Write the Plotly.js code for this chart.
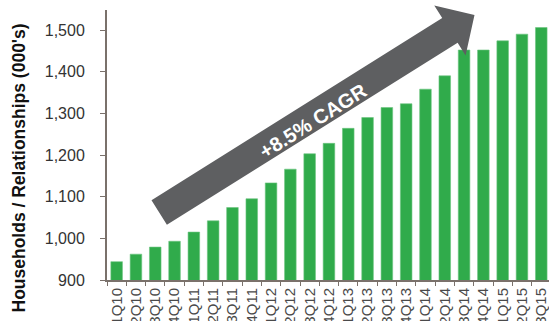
<!DOCTYPE html>
<html>
<head>
<meta charset="utf-8">
<script src="https://cdn.plot.ly/plotly-3.0.1.min.js"></script>
<style>html,body{margin:0;padding:0;background:#fff;}#chart{width:549px;height:321px;}</style>
</head>
<body>
<div id="chart"></div>
<script>
const quarters = ['1Q10','2Q10','3Q10','4Q10','1Q11','2Q11','3Q11','4Q11','1Q12','2Q12','3Q12','4Q12','1Q13','2Q13','3Q13','4Q13','1Q14','2Q14','3Q14','4Q14','1Q15','2Q15','3Q15'];
const households = [944, 962, 979, 993, 1015, 1042, 1074, 1095, 1133, 1166, 1203, 1228, 1264, 1290, 1314, 1323, 1358, 1390, 1452, 1452, 1474, 1490, 1506];
const yTicks = [900, 1000, 1100, 1200, 1300, 1400, 1500];
const arrowLabel = '+8.5% CAGR';
const yTitle = "Households / Relationships (000's)";

const W = 549, H = 321;
const M = {l: 107, r: 0, t: 10, b: 41};
const PW = W - M.l - M.r, PH = H - M.t - M.b;
const px = x => (x - M.l) / PW;
const py = y => (H - M.b - y) / PH;

// arrow geometry (pixels)
const tail = [159.2, 212.5], tip = [474.5, 15];
const dx = tip[0] - tail[0], dy = tip[1] - tail[1];
const L = Math.hypot(dx, dy);
const u = [dx / L, dy / L], n = [-u[1], u[0]];
const sw = 14.5, hw = 29.5, hl = 29;
const base = [tip[0] - hl * u[0], tip[1] - hl * u[1]];
const pts = [
  [tail[0] + sw * n[0], tail[1] + sw * n[1]],
  [base[0] + sw * n[0], base[1] + sw * n[1]],
  [base[0] + hw * n[0], base[1] + hw * n[1]],
  tip,
  [base[0] - hw * n[0], base[1] - hw * n[1]],
  [base[0] - sw * n[0], base[1] - sw * n[1]],
  [tail[0] - sw * n[0], tail[1] - sw * n[1]]
];
const path = 'M ' + pts.map(p => px(p[0]).toFixed(5) + ',' + py(p[1]).toFixed(5)).join(' L ') + ' Z';
const angle = Math.atan2(dy, dx) * 180 / Math.PI;

const font = 'Liberation Sans, Arial, sans-serif';

Plotly.newPlot('chart', [{
  type: 'bar',
  x: quarters,
  y: households,
  marker: {color: '#30ab4b', line: {color: '#6cc47f', width: 0.6}},
  hoverinfo: 'x+y'
}], {
  width: W, height: H,
  margin: M,
  paper_bgcolor: '#fff', plot_bgcolor: '#fff',
  bargap: 0.4,
  showlegend: false,
  font: {family: font},
  xaxis: {
    type: 'category',
    range: [-0.5, 22.4],
    tickangle: -90,
    tickfont: {size: 15, color: '#4a4a4a', family: font},
    showline: true, linecolor: '#7a716b', linewidth: 2,
    ticks: 'outside', ticklen: 4, tickcolor: '#7a716b', tickwidth: 1,
    tickson: 'boundaries',
    showgrid: false, zeroline: false,
    automargin: false
  },
  yaxis: {
    range: [900, 1548],
    tickvals: yTicks,
    tickformat: ',',
    tickfont: {size: 16, color: '#333333', family: font},
    showline: true, linecolor: '#7a716b', linewidth: 2,
    ticks: 'outside', ticklen: 5, tickcolor: '#7a716b', tickwidth: 1,
    ticklabelstandoff: 12,
    showgrid: false, zeroline: false,
    automargin: false
  },
  shapes: [{
    type: 'path', xref: 'paper', yref: 'paper',
    path: path, fillcolor: '#5e5f61', line: {width: 0}, layer: 'above'
  }],
  annotations: [{
    xref: 'paper', yref: 'paper',
    x: px(313), y: py(121),
    text: '<b>' + arrowLabel + '</b>',
    textangle: angle,
    showarrow: false,
    font: {size: 20, color: '#ffffff', family: font},
    xanchor: 'center', yanchor: 'middle'
  }, {
    xref: 'paper', yref: 'paper',
    x: px(18), y: py(168.5),
    text: '<b>' + yTitle + '</b>',
    textangle: -90,
    showarrow: false,
    font: {size: 17.5, color: '#111111', family: font},
    xanchor: 'center', yanchor: 'middle'
  }]
}, {displayModeBar: false, staticPlot: true});
</script>
</body>
</html>
